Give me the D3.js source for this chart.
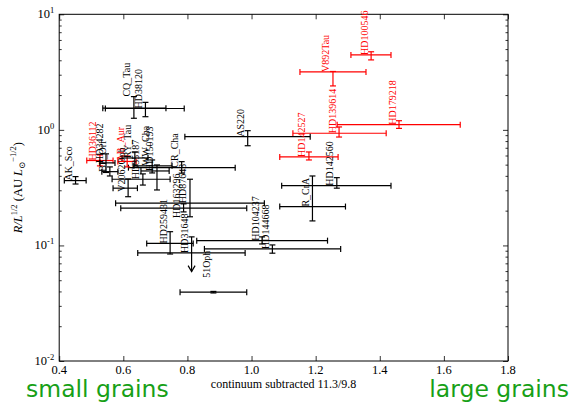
<!DOCTYPE html>
<html><head><meta charset="utf-8">
<script src="https://cdn.jsdelivr.net/npm/d3@7"></script>
<style>body{margin:0;background:#fff}svg{display:block}</style>
</head><body>
<svg id="chart" width="571" height="402"></svg>
<script>
// ---- data ----
const names  = ["HD100546","V892Tau","HD179218","HD139614","AS220","HD142527","HD142560","R_CrA","HD104237","HD144668","HD31648","HD259431","51Oph","CQ_Tau","HD38120","AK_Sco","CR_Cha","HD87643","HD163296","HD36112","HD34282","BF_Ori","AB_Aur","RY_Tau","V2062Oph","WW_Cha","HD150193","HD35187"];
const xVal   = [1.373,1.254,1.460,1.273,0.988,1.179,1.266,1.190,1.033,1.065,0.813,0.746,0.881,0.633,0.669,0.451,0.782,0.808,0.788,0.527,0.546,0.558,0.612,0.636,0.615,0.690,0.705,0.661];
const xLow   = [1.310,1.151,1.267,1.129,0.792,1.088,1.094,1.088,0.829,0.853,0.645,0.673,0.777,0.536,0.544,0.416,0.616,0.576,0.592,0.486,0.527,0.533,0.583,0.596,0.568,0.633,0.655,0.565];
const xHigh  = [1.435,1.357,1.651,1.420,1.183,1.270,1.435,1.293,1.237,1.278,0.980,0.818,0.985,0.733,0.790,0.484,0.949,1.040,0.985,0.568,0.574,0.583,0.640,0.677,0.644,0.752,0.743,0.746];
const yVal   = [4.45,3.17,1.11,0.935,0.873,0.583,0.329,0.217,0.110,0.0933,0.0861,0.104,0.0394,1.54,1.53,0.364,0.471,0.232,0.210,0.543,0.518,0.435,0.533,0.571,0.313,0.488,0.441,0.374];
const yLow   = [4.03,2.40,1.03,0.867,0.729,0.549,0.313,0.163,0.103,0.0857,0.0593,0.0843,0.0388,1.26,1.30,0.340,0.422,0.177,0.195,0.488,0.428,0.399,0.478,0.497,0.264,0.424,0.302,0.333];
const yHigh  = [4.74,3.20,1.20,1.06,0.984,0.644,0.386,0.399,0.1186,0.101,0.1186,0.1315,0.0400,1.94,1.73,0.394,0.531,0.374,0.229,0.607,0.620,0.478,0.594,0.644,0.376,0.549,0.497,0.416];
// y value at which each name label starts (text written upward from there)
const labelY = [4.45,3.17,1.11,0.935,0.873,0.583,0.329,0.217,0.110,0.0933,0.0861,0.104,0.0524,1.94,1.53,0.364,0.471,0.232,0.173,0.543,0.518,0.435,0.533,0.571,0.292,0.488,0.441,0.374];
const redStars = ["HD100546","V892Tau","HD179218","HD139614","HD142527","HD36112","AB_Aur"];
const upperLimits = ["HD31648"];
const xTicks = [0.4,0.6,0.8,1.0,1.2,1.4,1.6,1.8];
const yTickExps = [-2,-1,0,1];

// ---- layout ----
const svg = d3.select("#chart");
const L = 59.2, R = 508, T = 14.3, B = 361;
const x = d3.scaleLinear().domain([0.4,1.8]).range([L,R]);
const y = d3.scaleLog().domain([0.01,10]).range([B,T]);
const serif = "'Liberation Serif','DejaVu Serif',serif";

svg.append("rect").attr("x",L).attr("y",T).attr("width",R-L).attr("height",B-T)
  .attr("fill","none").attr("stroke","#000").attr("stroke-width",1);

svg.append("g").attr("transform",`translate(0,${B})`)
  .call(d3.axisTop(x).tickValues(xTicks).tickSize(5).tickFormat(""));
svg.append("g").attr("transform",`translate(0,${T})`)
  .call(d3.axisBottom(x).tickValues(xTicks).tickSize(5).tickFormat(""));
const minor = [];
for (let e=-2;e<1;e++) for (let m=2;m<=9;m++) minor.push(m*Math.pow(10,e));
const major = yTickExps.map(e=>Math.pow(10,e));
svg.append("g").attr("transform",`translate(${L},0)`).call(d3.axisRight(y).tickValues(major).tickSize(5).tickFormat(""));
svg.append("g").attr("transform",`translate(${L},0)`).call(d3.axisRight(y).tickValues(minor).tickSize(2.5).tickFormat(""));
svg.append("g").attr("transform",`translate(${R},0)`).call(d3.axisLeft(y).tickValues(major).tickSize(5).tickFormat(""));
svg.append("g").attr("transform",`translate(${R},0)`).call(d3.axisLeft(y).tickValues(minor).tickSize(2.5).tickFormat(""));
svg.selectAll(".domain").remove();
svg.selectAll(".tick line").attr("stroke","#000").attr("stroke-width",0.8);

svg.append("g").selectAll("text").data(xTicks).join("text")
  .attr("x",d=>x(d)).attr("y",B+13).attr("text-anchor","middle")
  .attr("font-family",serif).attr("font-size",12.5).text(d=>d.toFixed(1));
const yl = svg.append("g").selectAll("text").data(yTickExps).join("text")
  .attr("x",L-5).attr("y",d=>y(Math.pow(10,d))+4).attr("text-anchor","end")
  .attr("font-family",serif).attr("font-size",12.5);
yl.append("tspan").text("10");
yl.append("tspan").attr("dy",-5).attr("font-size",8.5).text(d=>d<0?"-"+(-d):d);

svg.append("text").attr("x",(L+R)/2).attr("y",388).attr("text-anchor","middle")
  .attr("font-family",serif).attr("font-size",12).text("continuum subtracted 11.3/9.8");
const yt = svg.append("text").attr("transform",`translate(22,${(T+B)/2}) rotate(-90)`)
  .attr("text-anchor","middle").attr("font-family",serif).attr("font-size",12.5);
yt.append("tspan").attr("font-style","italic").text("R/L");
yt.append("tspan").attr("dy",-5).attr("font-size",8.5).text("1/2");
yt.append("tspan").attr("dy",5).text(" (AU ");
yt.append("tspan").attr("font-style","italic").text("L");
yt.append("tspan").attr("dy",3).attr("font-size",8.5).text("⊙");
yt.append("tspan").attr("dy",-9).attr("font-size",8.5).text("−1/2");
yt.append("tspan").attr("dy",6).text(")");

svg.append("text").attr("x",26).attr("y",397).attr("font-family","'DejaVu Sans',sans-serif")
  .attr("font-size",23.5).attr("fill","#17a017").text("small grains");
svg.append("text").attr("x",569).attr("y",397).attr("text-anchor","end").attr("font-family","'DejaVu Sans',sans-serif")
  .attr("font-size",23.5).attr("fill","#17a017").text("large grains");

const pts = names.map((n,i)=>({n,x:xVal[i],xl:xLow[i],xh:xHigh[i],y:yVal[i],yl:yLow[i],yh:yHigh[i],ly:labelY[i],
  c: redStars.includes(n)?"#ff0000":"#000000", ul: upperLimits.includes(n)}));
const cap = 3;
const g = svg.append("g").attr("stroke-width",1.2).attr("fill","none");
pts.forEach(p=>{
  const gg = g.append("g").attr("stroke",p.c);
  const cx=x(p.x), cy=y(p.y);
  gg.append("line").attr("x1",x(p.xl)).attr("x2",x(p.xh)).attr("y1",cy).attr("y2",cy);
  gg.append("line").attr("x1",x(p.xl)).attr("x2",x(p.xl)).attr("y1",cy-cap).attr("y2",cy+cap);
  gg.append("line").attr("x1",x(p.xh)).attr("x2",x(p.xh)).attr("y1",cy-cap).attr("y2",cy+cap);
  gg.append("line").attr("x1",cx).attr("x2",cx).attr("y1",y(p.yl)).attr("y2",y(p.yh));
  gg.append("line").attr("x1",cx-cap).attr("x2",cx+cap).attr("y1",y(p.yh)).attr("y2",y(p.yh));
  if (p.ul) {
    const by=y(p.yl);
    gg.append("path").attr("d",`M${cx-3.5},${by-6}L${cx},${by}L${cx+3.5},${by-6}`);
  } else {
    gg.append("line").attr("x1",cx-cap).attr("x2",cx+cap).attr("y1",y(p.yl)).attr("y2",y(p.yl));
  }
});
svg.append("g").selectAll("text").data(pts).join("text")
  .attr("transform",d=>`translate(${x(d.x)-3.5},${y(d.ly)}) rotate(-90)`)
  .attr("font-family",serif).attr("font-size",10).attr("fill",d=>d.c).text(d=>d.n);
</script>
</body></html>
